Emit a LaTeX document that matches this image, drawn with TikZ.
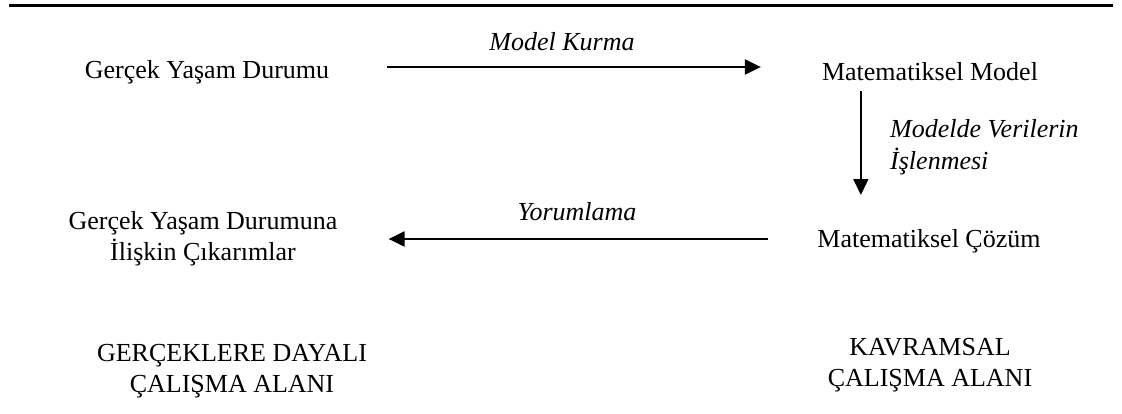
\documentclass[tikz,border=0pt]{standalone}
\usepackage{fontspec}
\setmainfont{Liberation Serif}
\usetikzlibrary{arrows.meta}

\tikzset{
  lbl/.style={inner sep=0pt, font=\fontsize{26}{31}\selectfont},
  ilbl/.style={inner sep=0pt, font=\fontsize{26}{32}\selectfont\itshape},
  arr/.style={line width=2.2pt, -{Triangle[length=16pt,width=15pt]}}
}

\begin{document}
\begin{tikzpicture}[x=1pt,y=-1pt]
\useasboundingbox (0,0) rectangle (1122,414);
\draw [line width=3pt] (9,6) -- (1113,6);
\node [lbl] (gercek) at (207,72) {Gerçek Yaşam Durumu};
\node [lbl] (model) at (930,72) {Matematiksel Model};
\node [lbl] (cozum) at (929,241) {Matematiksel Çözüm};
\node [lbl, align=center] (cikarim) at (203,239) {Gerçek Yaşam Durumuna\\İlişkin Çıkarımlar};
\node [ilbl] (kurma) at (562,42) {Model Kurma};
\node [ilbl, align=left, anchor=west] (isleme) at (890,147) {Modelde Verilerin\\İşlenmesi};
\node [ilbl] (yorum) at (577,212) {Yorumlama};
\node [lbl, align=center] (gercekalan) at (232,371) {GERÇEKLERE DAYALI\\ÇALIŞMA ALANI};
\node [lbl, align=center] (kavramalan) at (930,365) {KAVRAMSAL\\ÇALIŞMA ALANI};
\draw [arr] ([xshift=58pt,yshift=5pt]gercek.east) -- ([xshift=-61pt,yshift=5pt]model.west);
\draw [arr, line width=1.6pt] ([xshift=39pt,yshift=-10pt]model.south west) -- ([xshift=39pt,yshift=34pt]model.south west |- cozum.north);
\coordinate (yorumbas) at ([xshift=-49pt,yshift=2pt]cozum.west);
\draw [arr] (yorumbas) -- ([xshift=51pt]cikarim.east |- yorumbas);
\end{tikzpicture}
\end{document}
